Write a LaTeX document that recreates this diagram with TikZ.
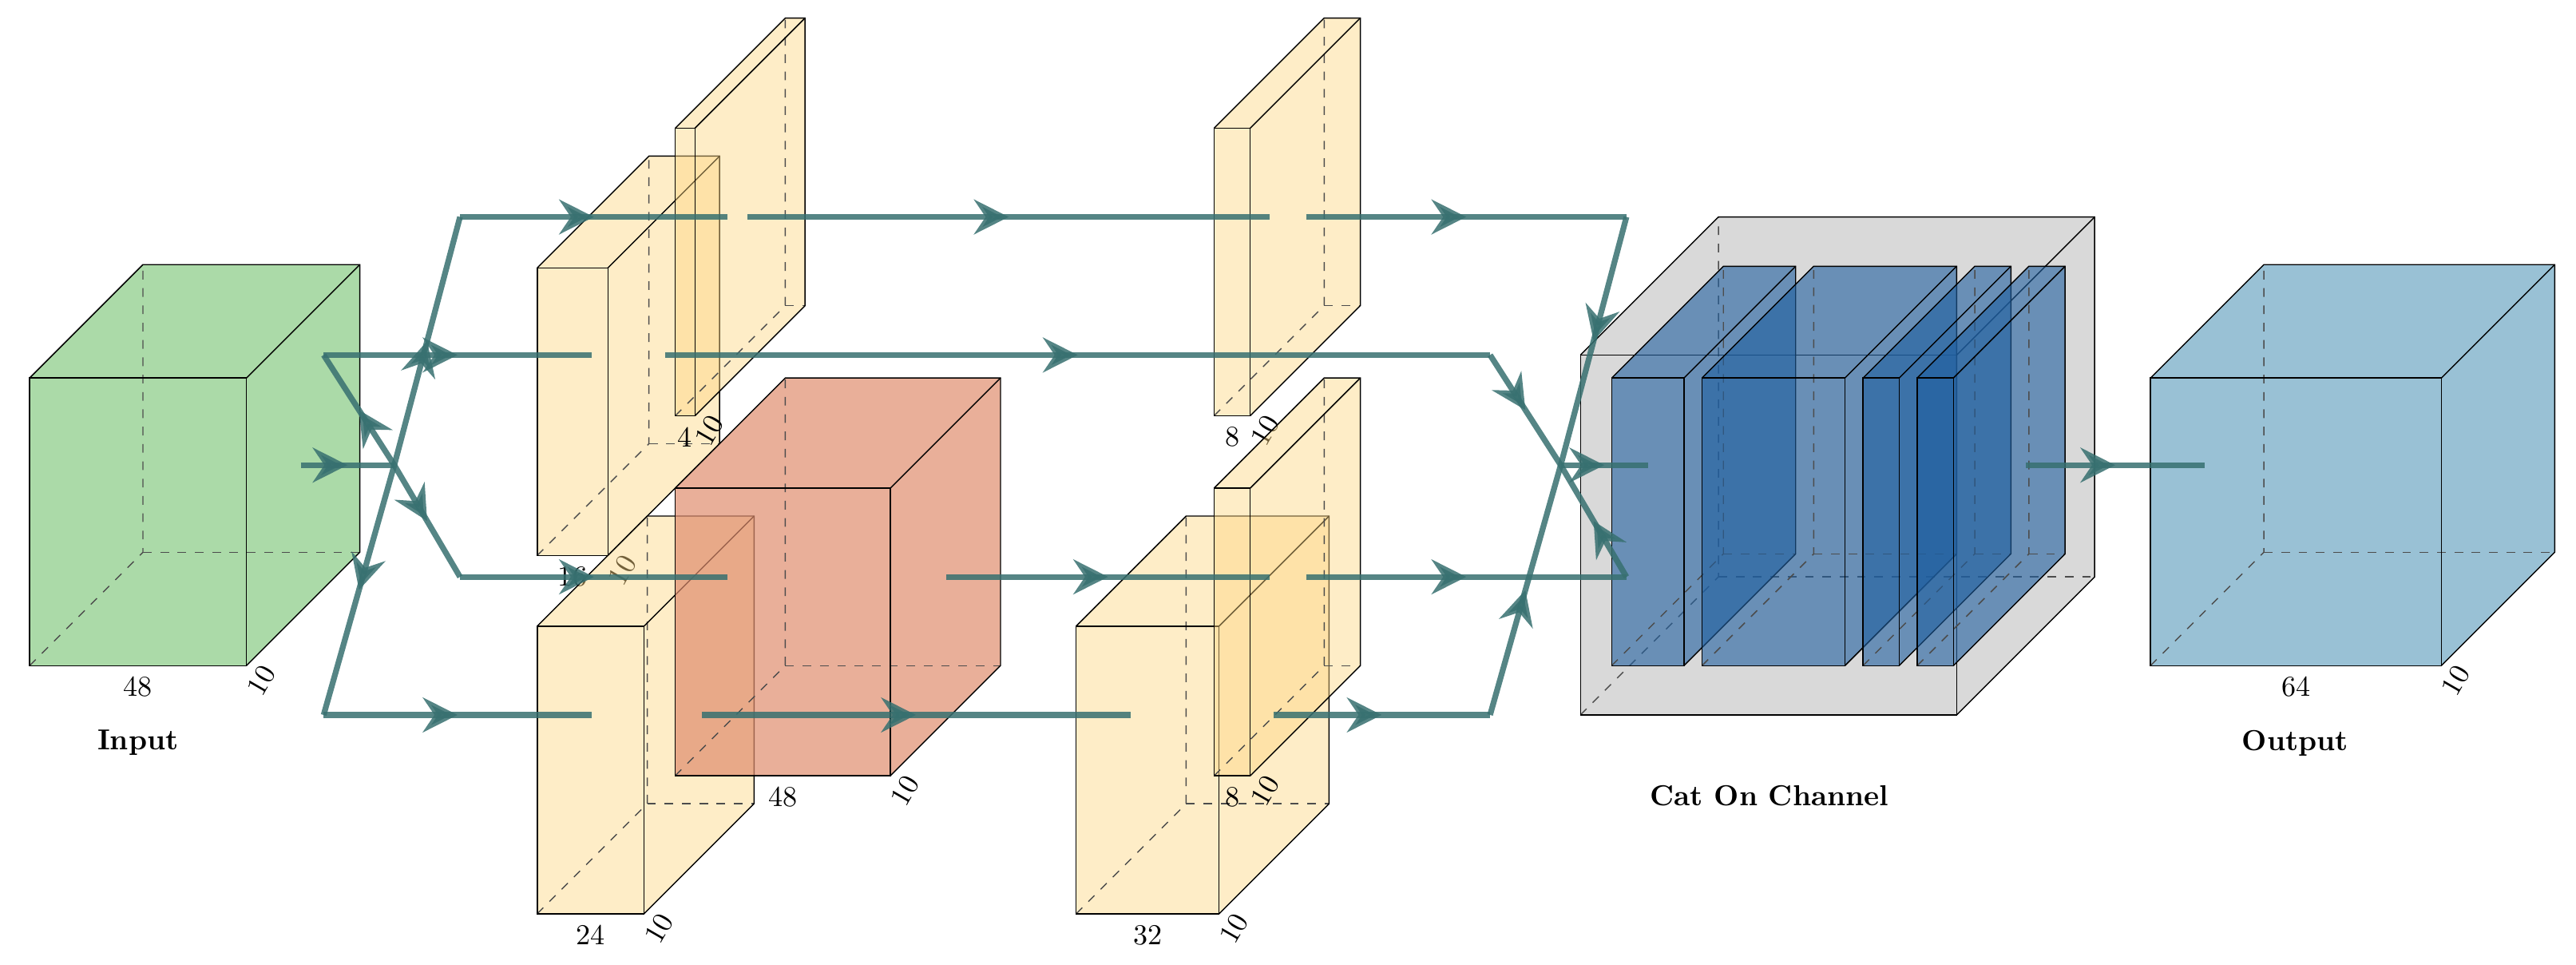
\documentclass[tikz,border=0pt]{standalone}
\usepackage{xcolor}
\usetikzlibrary{arrows.meta,decorations.markings,calc}

\definecolor{inputcol}{RGB}{171,218,168}
\definecolor{convcol}{RGB}{253,214,130}
\definecolor{poolcol}{RGB}{223,141,110}
\definecolor{catcol}{RGB}{217,217,217}
\definecolor{slicecol}{RGB}{31,95,160}
\definecolor{outcol}{RGB}{153,193,213}
\definecolor{linkcol}{RGB}{55,112,112}

% cube: name, front bottom-left, width, height, depth, fill style
\newcommand{\cube}[6]{
  \coordinate (#1) at #2;
  \fill[#6] (#1) -- ++(#3,0) -- ++(#5,-#5) -- ++(0,-#4) -- ++(-#3,0) -- ++(-#5,#5) -- cycle;
  \draw[black!70,dashed,thin] (#1) -- ++(#5,-#5) -- ++(0,-#4);
  \draw[black!70,dashed,thin] (#1) ++(#5,-#5) -- ++(#3,0);
  \draw[thin] (#1) rectangle ++(#3,-#4);
  \draw[thin] (#1) ++(0,-#4) -- ++(#5,-#5) -- ++(#3,0) -- ++(0,#4) -- ++(-#5,#5);
  \draw[thin] (#1) ++(#3,-#4) -- ++(#5,-#5);
}
% size labels below a cube: name, width, text under, depth text
\newcommand{\dims}[4]{
  \node at ($(#1)+(#2/2,13)$) {#3};
  \node[rotate=60] at ($(#1)+(#2+9,9)$) {#4};
}

\begin{document}
\begin{tikzpicture}[x=0.02cm,y=-0.02cm,
  conv/.style={fill=convcol,fill opacity=0.45},
  link/.style={draw=linkcol,draw opacity=0.85,line width=2pt,
    postaction={decorate,decoration={markings,mark=at position 0.5 with
      {\arrow[linkcol,opacity=0.85]{Stealth[length=12pt,width=12pt,inset=4pt]}}}}}]
  \useasboundingbox (0,0) rectangle (1568,587);

  % blocks
  \cube{in}{(18,405)}{132}{175}{69}{fill=inputcol}
  \dims{in}{132}{48}{10}
  \node[font=\bfseries] at (84,452) {Input};

  \cube{ca}{(327,338)}{43}{175}{68}{conv}
  \dims{ca}{43}{16}{10}
  \cube{pa}{(411,253)}{12}{175}{67}{conv}
  \dims{pa}{12}{4}{10}
  \cube{cb}{(327,556)}{65}{175}{67}{conv}
  \dims{cb}{65}{24}{10}
  \cube{pb}{(411,472)}{131}{175}{67}{fill=poolcol,fill opacity=0.7}
  \dims{pb}{131}{48}{10}

  \cube{cc}{(739,253)}{22}{175}{67}{conv}
  \dims{cc}{22}{8}{10}
  \cube{cd}{(655,556)}{87}{175}{67}{conv}
  \dims{cd}{87}{32}{10}
  \cube{ce}{(739,472)}{22}{175}{67}{conv}
  \dims{ce}{22}{8}{10}

  \cube{cat}{(962,435)}{229}{219}{84}{fill=catcol}
  \node[font=\bfseries] at (1077,484) {Cat On Channel};
  \cube{sa}{(981,405)}{44}{175}{68}{fill=slicecol,fill opacity=0.6}
  \cube{sb}{(1036,405)}{87}{175}{68}{fill=slicecol,fill opacity=0.6}
  \cube{sc}{(1134,405)}{22}{175}{68}{fill=slicecol,fill opacity=0.6}
  \cube{sd}{(1167,405)}{22}{175}{68}{fill=slicecol,fill opacity=0.6}

  \cube{out}{(1309,405)}{177}{175}{69}{fill=outcol}
  \dims{out}{177}{64}{10}
  \node[font=\bfseries] at (1397,452) {Output};

  % link points
  \coordinate (s) at (183,283);   \coordinate (j) at (240,283);
  \coordinate (a0) at (280,132);  \coordinate (a1) at (443,132);
  \coordinate (a2) at (455,132);  \coordinate (a3) at (773,132);
  \coordinate (a4) at (795,132);  \coordinate (a5) at (990,132);
  \coordinate (b0) at (197,216);  \coordinate (b1) at (360,216);
  \coordinate (b2) at (405,216);  \coordinate (b3) at (907,216);
  \coordinate (c0) at (280,351);  \coordinate (c1) at (443,351);
  \coordinate (c2) at (576,351);  \coordinate (c3) at (773,351);
  \coordinate (c4) at (795,351);  \coordinate (c5) at (990,351);
  \coordinate (d0) at (197,435);  \coordinate (d1) at (360,435);
  \coordinate (d2) at (427,435);  \coordinate (d3) at (688,435);
  \coordinate (d4) at (775,435);  \coordinate (d5) at (907,435);
  \coordinate (k) at (950,283);   \coordinate (k1) at (1003,283);
  \coordinate (o0) at (1233,283); \coordinate (o1) at (1342,283);

  % links
  \draw[link] (s) -- (j);
  \draw[link] (j) -- (a0);
  \draw[link] (j) -- (b0);
  \draw[link] (j) -- (c0);
  \draw[link] (j) -- (d0);
  \draw[link] (a0) -- (a1);
  \draw[link] (a2) -- (a3);
  \draw[link] (a4) -- (a5);
  \draw[link] (b0) -- (b1);
  \draw[link] (b2) -- (b3);
  \draw[link] (c0) -- (c1);
  \draw[link] (c2) -- (c3);
  \draw[link] (c4) -- (c5);
  \draw[link] (d0) -- (d1);
  \draw[link] (d2) -- (d3);
  \draw[link] (d4) -- (d5);
  \draw[link] (a5) -- (k);
  \draw[link] (b3) -- (k);
  \draw[link] (c5) -- (k);
  \draw[link] (d5) -- (k);
  \draw[link] (k) -- (k1);
  \draw[link] (o0) -- (o1);
\end{tikzpicture}
\end{document}
